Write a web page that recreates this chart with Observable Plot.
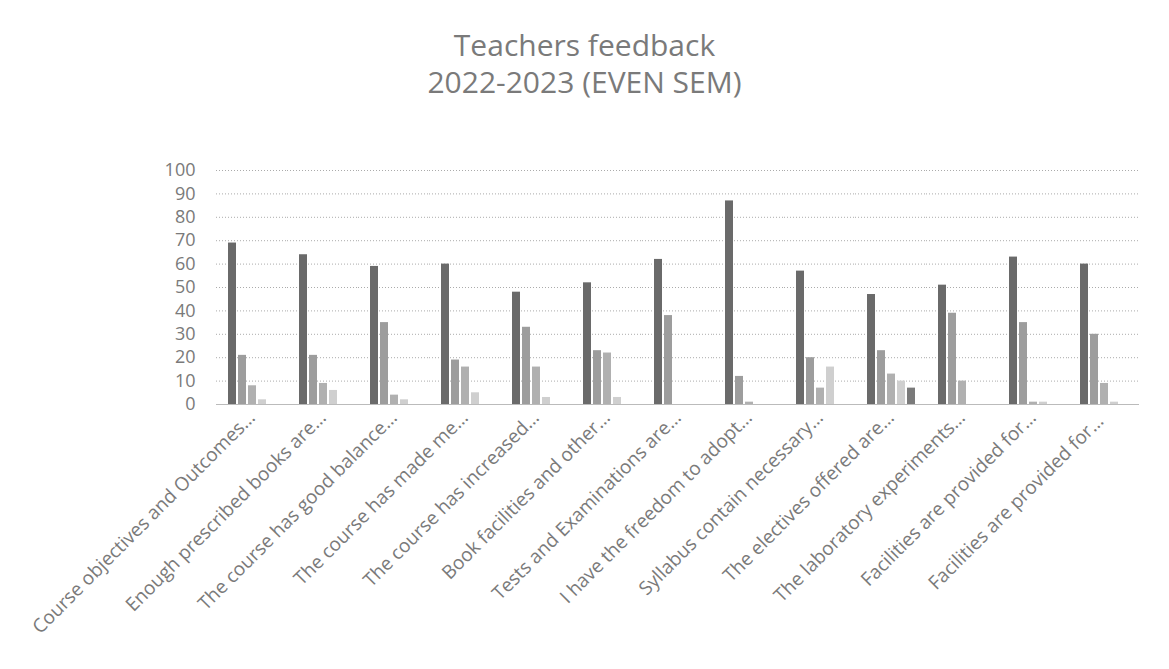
<!DOCTYPE html>
<html>
<head>
<meta charset="utf-8">
<script src="https://cdn.jsdelivr.net/npm/d3@7"></script>
<script src="https://cdn.jsdelivr.net/npm/@observablehq/plot@0.6"></script>
<style>
  html, body { margin: 0; padding: 0; background: #fff; }
  #title { width: 1169px; text-align: center; font-family: "Open Sans", sans-serif; color: #7a7a7a; font-size: 30px; line-height: 37px; padding-top: 26px; height: 94px; box-sizing: content-box; }
  svg g[aria-label="y-axis tick label"] { font-size: 18px; }
  svg g[aria-label="fx-axis tick label"] { font-size: 19px; }
</style>
</head>
<body>
<div id="title">Teachers feedback<br>2022-2023 (EVEN SEM)</div>
<div id="chart"></div>
<script>
const categories = [
  "Course objectives and Outcomes…",
  "Enough prescribed books are…",
  "The course has good balance…",
  "The course has made me…",
  "The course has increased…",
  "Book facilities and other…",
  "Tests and Examinations are…",
  "I have the freedom to adopt…",
  "Syllabus contain necessary…",
  "The electives offered are…",
  "The laboratory experiments…",
  "Facilities are provided for…",
  "Facilities are provided for… "
];
const series = ["Strongly Agree", "Agree", "Neutral", "Disagree", "Strongly Disagree"];
const s1 = [69, 64, 59, 60, 48, 52, 62, 87, 57, 47, 51, 63, 60];
const s2 = [21, 21, 35, 19, 33, 23, 38, 12, 20, 23, 39, 35, 30];
const s3 = [8, 9, 4, 16, 16, 22, 0, 1, 7, 13, 10, 1, 9];
const s4 = [2, 6, 2, 5, 3, 3, 0, 0, 16, 10, 0, 1, 1];
const s5 = [0, 0, 0, 0, 0, 0, 0, 0, 0, 7, 0, 0, 0];
const yTicks = [0, 10, 20, 30, 40, 50, 60, 70, 80, 90, 100];
const colors = ["#6a6a6a", "#9d9d9d", "#b0b0b0", "#cfcfcf", "#7a7a7a"];

const allSeries = [s1, s2, s3, s4, s5];
const data = [];
categories.forEach((c, i) => {
  series.forEach((s, j) => {
    data.push({category: c, series: s, value: allSeries[j][i]});
  });
});

const chart = Plot.plot({
  width: 1169,
  height: 549,
  marginTop: 50,
  marginBottom: 265,
  marginLeft: 212,
  marginRight: 27,
  style: {fontFamily: "'Open Sans', sans-serif", color: "#7a7a7a", background: "#fff"},
  fx: {domain: categories, padding: 0, label: null, tickRotate: -45, tickSize: 0, tickPadding: 10},
  x: {domain: series, paddingInner: 0.24, paddingOuter: 0.95, axis: null},
  y: {domain: [0, 100], ticks: yTicks, tickSize: 0, tickPadding: 21, label: null},
  color: {domain: series, range: colors},
  marks: [
    Plot.gridY(yTicks, {stroke: "#888", strokeOpacity: 0.7, strokeDasharray: "1,2"}),
    Plot.ruleY([0], {stroke: "#bbb"}),
    Plot.barY(data, {fx: "category", x: "series", y: "value", fill: "series"})
  ]
});
document.getElementById("chart").appendChild(chart);
</script>
</body>
</html>
